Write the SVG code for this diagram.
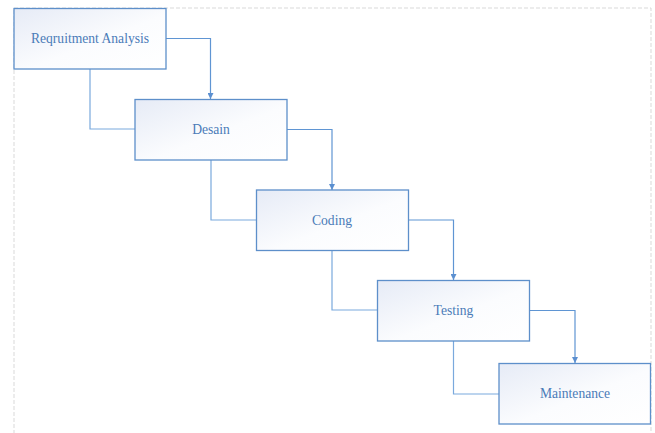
<svg xmlns="http://www.w3.org/2000/svg" width="655" height="433" viewBox="0 0 655 433">
<defs>
<linearGradient id="g" x1="0" y1="0" x2="1" y2="1">
<stop offset="0" stop-color="#e6ebf6"/>
<stop offset="0.55" stop-color="#fbfcfe"/>
<stop offset="1" stop-color="#ffffff"/>
</linearGradient>
<marker id="arr" viewBox="0 0 10 10" refX="10" refY="5" markerWidth="6" markerHeight="6" markerUnits="userSpaceOnUse" orient="auto">
<path d="M0,0 L10,5 L0,10 z" fill="#5b8fd0"/>
</marker>
<style>
.box{fill:url(#g);stroke:#5d8fca;stroke-width:1.3}
.lbl{font-family:"Liberation Serif","Times New Roman",serif;font-size:13.6px;fill:#4a7bb8;text-anchor:middle;dominant-baseline:central}
.c{fill:none;stroke:#7aa9dd;stroke-width:1.2}
.ca{fill:none;stroke:#5f95d3;stroke-width:1.2}
.page{fill:none;stroke:#d9d9d9;stroke-width:1;stroke-dasharray:4 2}
</style>
</defs>
<rect class="page" x="14" y="8" width="637" height="440"/>
<g id="connectors">
<path class="c" d="M90,69 V129 H135"/>
<path class="c" d="M211,160 V220 H256"/>
<path class="c" d="M332,250 V310 H377"/>
<path class="c" d="M453.5,341 V394 H499"/>
<path class="ca" d="M166,38.5 H210.5 V99" marker-end="url(#arr)"/>
<path class="ca" d="M287,129.5 H332 V190" marker-end="url(#arr)"/>
<path class="ca" d="M408,220 H453.5 V280" marker-end="url(#arr)"/>
<path class="ca" d="M530,310.5 H575 V363" marker-end="url(#arr)"/>
</g>
<g id="node-requirement">
<rect class="box" x="14" y="8.5" width="152" height="60.5"/>
<text class="lbl" x="90" y="38.5">Reqruitment Analysis</text>
</g>
<g id="node-desain">
<rect class="box" x="135" y="99.5" width="152" height="60.5"/>
<text class="lbl" x="211" y="129.5">Desain</text>
</g>
<g id="node-coding">
<rect class="box" x="256.5" y="190" width="152" height="60.5"/>
<text class="lbl" x="332" y="220">Coding</text>
</g>
<g id="node-testing">
<rect class="box" x="377.5" y="280.5" width="152" height="60.5"/>
<text class="lbl" x="453.5" y="310.5">Testing</text>
</g>
<g id="node-maintenance">
<rect class="box" x="499" y="363.5" width="151.5" height="60.5"/>
<text class="lbl" x="575" y="393.5">Maintenance</text>
</g>
</svg>
